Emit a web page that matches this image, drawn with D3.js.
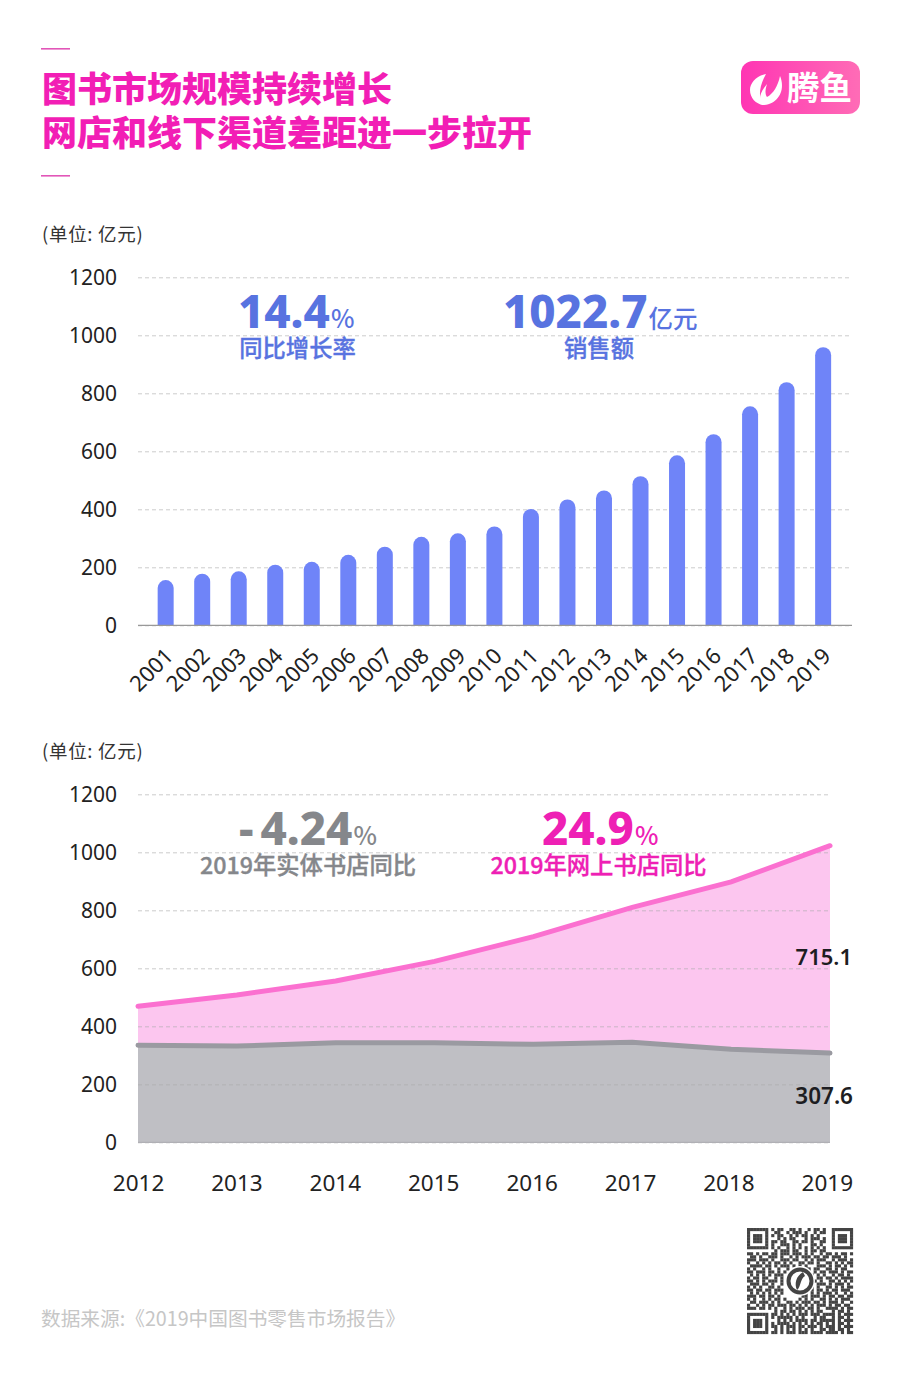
<!DOCTYPE html>
<html>
<head>
<meta charset="utf-8">
<script src="https://cdn.jsdelivr.net/npm/d3@7"></script>
<style>
  html, body { margin: 0; padding: 0; background: #fff; }
  svg { display: block; }
  text { font-family: "Noto Sans CJK SC", "Noto Sans", sans-serif; }
  .tick text { font-family: "Noto Sans", "Noto Sans CJK SC", sans-serif; fill: #222; font-size: 21px; }
</style>
</head>
<body>
<div id="chart"></div>
<script>
// Yearly book market sales, 100m yuan
const barYears = ['2001','2002','2003','2004','2005','2006','2007','2008','2009','2010',
  '2011','2012','2013','2014','2015','2016','2017','2018','2019'];
const barValues = [156,178,186,209,219,243,271,305,317,341,401,434,465,514,586,659,755,838,959];

// Physical vs online stores
const areaYears = ['2012','2013','2014','2015','2016','2017','2018','2019'];
const physicalValues = [335,332,343,343,338,345,321,307.6];
const onlineValues = [134,176,213,281,371,465,577,715.1];

const yTicks = [0,200,400,600,800,1000,1200];

// QR code modules
const qrRows = [
  '#######.#.##..##.#..#.##.#..#######',
  '#.....#..##..#.###.#..#.##..#.....#',
  '#.###.#.#.##..#.#.##.#.#....#.###.#',
  '#.###.#...#.#.##...#.###.#..#.###.#',
  '#.###.#.##.##..##.##.#..##..#.###.#',
  '#.....#.#..###.#.#...##.#...#.....#',
  '#######.#.#..#.#.#.#.#.#.#..#######',
  '.........#.###.##..#.##.##.........',
  '##.#.##.##.###.###.#.#..#.##.#.##.#',
  '.##.#..###.#..#.#.###.##.##.###.#..',
  '###.###.#..###.##..#.#.###..#.###.#',
  '#..#.#.#.##.#.#..##.##.#..##.#.#.##',
  '.####.##.#.###.#.#.#...###.#.##.#.#',
  '#.#..#.#..#..#..#.###.##..##.#.##..',
  '##.###.##.#.#.....###.#.##.###.#.##',
  '.#.#.#.#.###......#.##.#.#..#.##.#.',
  '#.##.##..#.#.......#.#.##.##.#.####',
  '##.#.#.###.#........#.#.#..##.#.#.#',
  '.###.##.#..#........##.###.#.###.#.',
  '#.#.#..##.#..........#.#..##.#.#.##',
  '##.##.##.###........##.##.#.##.###.',
  '.#.#.#.#.#.#.......#.#.#.###.#..#.#',
  '###.##.##.#.......##.###.#.##.##.##',
  '#.#..#.#.##.#....#.#.#..##.#.#.###.',
  '.##.###.#.#..##.#.###.##.#.###.#..#',
  '#..#.#.##.###.##.#.#.#.###.#.##.##.',
  '###.##.#.#..#.#.###.##.#..####.#.##',
  '.........#.##.##.#.#.#.##...#.##.#.',
  '#######.##.#.#.#.###.###.####.#.###',
  '#.....#.#.#####.#.#...#.##..#.##.#.',
  '#.###.#...#.#.#.####.##.#####.#.###',
  '#.###.#.#.####.#.#.#.#.##.#.#.##.#.',
  '#.###.#.##.#.###.##.###.#.###.#.###',
  '#.....#..#.#.#.#.#.#.#..##.##.##.#.',
  '#######.##.#.###.###.####.####.#.##',
];

const svg = d3.select('#chart').append('svg').attr('width', 900).attr('height', 1383);

const defs = svg.append('defs');
const grad = defs.append('linearGradient').attr('id', 'logoGrad');
grad.append('stop').attr('offset', '0%').attr('stop-color', '#ff35b3');
grad.append('stop').attr('offset', '100%').attr('stop-color', '#ff6cb6');

// Title block
const pink = '#f21eb5';
svg.append('rect').attr('x', 41).attr('y', 48).attr('width', 29).attr('height', 1.6).attr('fill', '#e256b8');
svg.append('rect').attr('x', 41).attr('y', 175).attr('width', 29).attr('height', 1.6).attr('fill', '#e256b8');
svg.append('text').attr('x', 42).attr('y', 102).attr('fill', pink)
  .style('font-size', '35px').style('font-weight', 900).text('图书市场规模持续增长');
svg.append('text').attr('x', 42).attr('y', 146).attr('fill', pink)
  .style('font-size', '35px').style('font-weight', 900).text('网店和线下渠道差距进一步拉开');

// Logo
const logo = svg.append('g');
logo.append('rect').attr('x', 741).attr('y', 61).attr('width', 119).attr('height', 53).attr('rx', 12).attr('fill', 'url(#logoGrad)');
logo.append('path').attr('fill', '#fff')
  .attr('d', 'M766 74 C756 76 750 83 750 90 C750 98 756 104 763 105 C759 99 758 88 766 74 Z');
logo.append('path').attr('fill', '#fff')
  .attr('d', 'M780 76 C786 90 778 105 762 105 C758 100 760 92 767 84 C765 90 765 94 767 97 C773 94 778 86 780 76 Z');
logo.append('text').attr('x', 787).attr('y', 100).attr('fill', '#fff')
  .style('font-size', '32.5px').style('font-weight', 700).text('腾鱼');

// Unit labels
[235, 752].forEach(y => {
  svg.append('text').attr('x', 42).attr('y', y + 6).attr('fill', '#333')
    .style('font-size', '18.5px').style('letter-spacing', '0.7px').text('(单位: 亿元)');
});

// Big number with small unit, plus a caption under it
function callout(x, y, big, unit, unitSize, caption, capX, color) {
  const t = svg.append('text').attr('x', x).attr('y', y).attr('fill', color);
  t.selectAll('tspan.num').data(big.startsWith('-') ? ['-', big.slice(1)] : [big]).enter().append('tspan')
    .attr('class', 'num')
    .attr('dx', (d, i) => i ? 7 : 0)
    .style('font-family', '"Noto Sans", sans-serif').style('font-size', '45.5px').style('font-weight', 800).text(d => d);
  t.append('tspan').attr('dx', 1).style('font-size', unitSize + 'px').style('font-weight', 500).text(unit);
  svg.append('text').attr('x', capX).attr('y', y + 29).attr('fill', color).attr('text-anchor', 'middle')
    .attr('stroke', color).attr('stroke-width', 0.35)
    .style('font-size', '23.3px').style('font-weight', 500).text(caption);
}

// ---- Bar chart ----
const y1 = d3.scaleLinear().domain([0, 1200]).range([625.3, 277.3]);
const x1 = d3.scaleBand().domain(barYears).range([147.4, 841.4]);

svg.append('g').attr('transform', 'translate(138,0)')
  .call(d3.axisRight(y1).tickValues(yTicks).tickSize(714).tickFormat(''))
  .call(g => g.select('.domain').remove())
  .call(g => g.selectAll('line').attr('stroke', '#ccc').attr('stroke-dasharray', '4 3'));

const barW = 16;
svg.append('g').selectAll('path').data(barYears).enter().append('path')
  .attr('fill', '#6f84f8')
  .attr('d', (d, i) => {
    const left = x1(d) + x1.bandwidth() / 2 - barW / 2;
    const top = y1(barValues[i]);
    return `M${left},${y1(0)}V${top + barW / 2}A${barW / 2},${barW / 2} 0 0 1 ${left + barW},${top + barW / 2}V${y1(0)}Z`;
  });

svg.append('line').attr('x1', 138).attr('x2', 852).attr('y1', y1(0)).attr('y2', y1(0))
  .attr('stroke', '#999').attr('stroke-width', 1.2);

svg.append('g').attr('transform', 'translate(117,0)')
  .call(d3.axisLeft(y1).tickValues(yTicks).tickSize(0).tickPadding(0).tickFormat(d3.format('d')))
  .call(g => g.select('.domain').remove());

svg.append('g').attr('transform', `translate(0,${y1(0)})`)
  .call(d3.axisBottom(x1).tickSize(0).tickPadding(0))
  .call(g => g.select('.domain').remove())
  .selectAll('text')
    .style('font-size', '22px')
    .attr('text-anchor', 'end')
    .attr('dy', 0)
    .attr('y', 0)
    .attr('transform', 'translate(9,32) rotate(-45)');

callout(238, 328, '14.4', '%', 25, '同比增长率', 297.5, '#5873e0');
callout(503, 328, '1022.7', '亿元', 24.5, '销售额', 599, '#5873e0');

// ---- Stacked area chart ----
const y2 = d3.scaleLinear().domain([0, 1200]).range([1142.3, 794.3]);
const x2 = d3.scalePoint().domain(areaYears).range([138, 830]);

const rows = areaYears.map((year, i) => ({ year, physical: physicalValues[i], online: onlineValues[i] }));
const stacked = d3.stack().keys(['physical', 'online'])(rows);
const fills = ['#bfbfc4', '#fcc6ef'];
const strokes = ['#9a9aa1', '#fb70d0'];

const area = d3.area().x(d => x2(d.data.year)).y0(d => y2(d[0])).y1(d => y2(d[1]));
const topLine = d3.line().x(d => x2(d.data.year)).y(d => y2(d[1]));

svg.append('g').selectAll('path').data(stacked).enter().append('path')
  .attr('fill', (d, i) => fills[i]).attr('d', area);

svg.append('g').attr('transform', 'translate(138,0)')
  .call(d3.axisRight(y2).tickValues(yTicks).tickSize(693).tickFormat(''))
  .call(g => g.select('.domain').remove())
  .call(g => g.selectAll('line').attr('stroke', '#aaa').attr('stroke-opacity', 0.6).attr('stroke-dasharray', '4 3'));

svg.append('g').selectAll('path').data(stacked).enter().append('path')
  .attr('fill', 'none').attr('stroke', (d, i) => strokes[i]).attr('stroke-width', 5)
  .attr('stroke-linecap', 'round').attr('d', topLine);

svg.append('line').attr('x1', 138).attr('x2', 830).attr('y1', y2(0)).attr('y2', y2(0))
  .attr('stroke', '#b0b0b5').attr('stroke-width', 1.2);

svg.append('g').attr('transform', 'translate(117,0)')
  .call(d3.axisLeft(y2).tickValues(yTicks).tickSize(0).tickPadding(0).tickFormat(d3.format('d')))
  .call(g => g.select('.domain').remove());

svg.append('g').attr('transform', `translate(0,${y2(0)})`)
  .call(d3.axisBottom(x2).tickSize(0).tickPadding(32.7))
  .call(g => g.select('.domain').remove())
  .selectAll('text')
    .style('font-size', '22.5px')
    .attr('dy', '0.71em')
    .attr('dx', (d, i) => -i * 0.45);

callout(239, 845, '-4.24', '%', 25, '2019年实体书店同比', 308, '#85878b');
callout(542, 845, '24.9', '%', 25, '2019年网上书店同比', 598.5, '#ee20b4');

// Values at the right edge
svg.append('text').attr('x', 852).attr('y', y2(0) - 177).attr('text-anchor', 'end').attr('fill', '#1d1d22')
  .style('font-family', '"Noto Sans", sans-serif').style('font-size', '22px').style('font-weight', 600).text(onlineValues[7]);
svg.append('text').attr('x', 853).attr('y', y2(0) - 38).attr('text-anchor', 'end').attr('fill', '#1d1d22')
  .style('font-family', '"Noto Sans", sans-serif').style('font-size', '22.5px').style('font-weight', 600).text(physicalValues[7]);

// Source
svg.append('text').attr('x', 41).attr('y', 1326).attr('fill', '#c6c6c6')
  .style('font-size', '19.7px').text('数据来源:《2019中国图书零售市场报告》');

// QR code
const qrX = d3.scaleLinear().domain([0, 35]).range([747, 853]);
const qrY = d3.scaleLinear().domain([0, 35]).range([1228, 1334]);
const qr = svg.append('g').attr('fill', '#444');
qrRows.forEach((row, r) => {
  row.split('').forEach((c, k) => {
    if (c === '#') qr.append('rect').attr('x', qrX(k)).attr('y', qrY(r))
      .attr('width', qrX(1) - qrX(0) + 0.1).attr('height', qrY(1) - qrY(0) + 0.1);
  });
});
svg.append('circle').attr('cx', 800).attr('cy', 1281).attr('r', 15).attr('fill', '#fff');
svg.append('circle').attr('cx', 800).attr('cy', 1281).attr('r', 11.5).attr('fill', 'none').attr('stroke', '#444').attr('stroke-width', 4);
svg.append('path').attr('fill', '#444').attr('d', 'M803 1272 C796 1276 794 1284 797 1290 C801 1287 800 1279 805 1276 Z');
</script>
</body>
</html>
